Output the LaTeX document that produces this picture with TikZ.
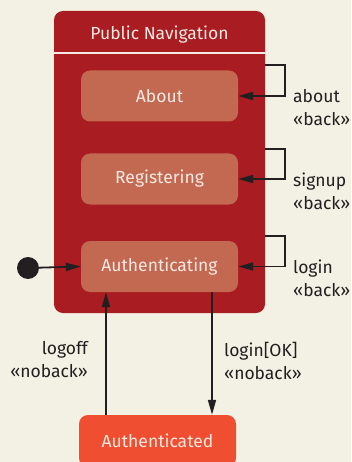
\documentclass[tikz,border=0pt]{standalone}
\usepackage{fontspec}
\setmainfont{Fira Sans}
\usetikzlibrary{arrows.meta}
\definecolor{bg}{HTML}{F2F1E4}
\definecolor{cont}{HTML}{A81C22}
\definecolor{inner}{HTML}{C36851}
\definecolor{final}{HTML}{F04E31}
\definecolor{ink}{HTML}{231F20}
\definecolor{light}{HTML}{F6E9E2}
\begin{document}
\begin{tikzpicture}[x=1pt,y=-1pt,
  font=\fontsize{17.5}{23}\selectfont,
  stbox/.style={fill=inner, text=light, rounded corners=9pt, minimum width=157pt, minimum height=51pt, inner sep=0pt},
  arr/.style={draw=ink, line width=1.8pt, -{Triangle[length=15pt,width=8pt]}},
  lbl/.style={text=ink, inner sep=0pt, anchor=base west}]
\fill[bg] (0,0) rectangle (351,462);
\useasboundingbox (0,0) rectangle (351,462);
% container
\node[fill=cont, rounded corners=9pt, minimum width=211pt, minimum height=302pt, inner sep=0pt] (pn) at (159.5,162) {};
\node[text=light, inner sep=0pt] (title) at (159.5,35) {Public Navigation};
\coordinate (sepl) at (54,53);
\coordinate (sepr) at (265,53);
\draw[light, line width=2.5pt] (sepl) -- (sepr);
% states
\node[stbox] (about) at (159.5,96) {About};
\node[stbox] (reg) at (159.5,179) {Registering};
\node[stbox] (authing) at (159.5,266.5) {Authenticating};
\node[stbox, fill=final, minimum height=52pt] (authd) at (157.5,441) {Authenticated};
\node[circle, fill=ink, minimum size=22pt, inner sep=0pt] (init) at (28,268) {};
% self loops
\coordinate (l1) at (265,65);
\coordinate (l2) at (265,149);
\coordinate (l3) at (265,236);
\draw[arr] (l1) -- ++(20,0) |- (about.east);
\draw[arr] (l2) -- ++(20,0) |- (reg.east);
\draw[arr] (l3) -- ++(20,0) |- (authing.east);
\node[lbl] (la1) at (293,103) {about};
\node[lbl] (la2) at (293,126) {«back»};
\node[lbl] (ls1) at (293,186) {signup};
\node[lbl] (ls2) at (293,209) {«back»};
\node[lbl] (ll1) at (293,273) {login};
\node[lbl] (ll2) at (293,296) {«back»};
% initial
\draw[arr] (init) -- (authing.west);
% logoff / login
\coordinate (xl) at (106,0);
\coordinate (xr) at (212,0);
\draw[arr] (authd.north -| xl) -- (authing.south -| xl);
\draw[arr] (authing.south -| xr) -- (authd.north -| xr);
\node[lbl, anchor=base east] (lo1) at (88,354) {logoff};
\node[lbl, anchor=base east] (lo2) at (88,377) {«noback»};
\node[lbl] (lk1) at (224,356.5) {login[OK]};
\node[lbl] (lk2) at (224,379.5) {«noback»};
\end{tikzpicture}
\end{document}
